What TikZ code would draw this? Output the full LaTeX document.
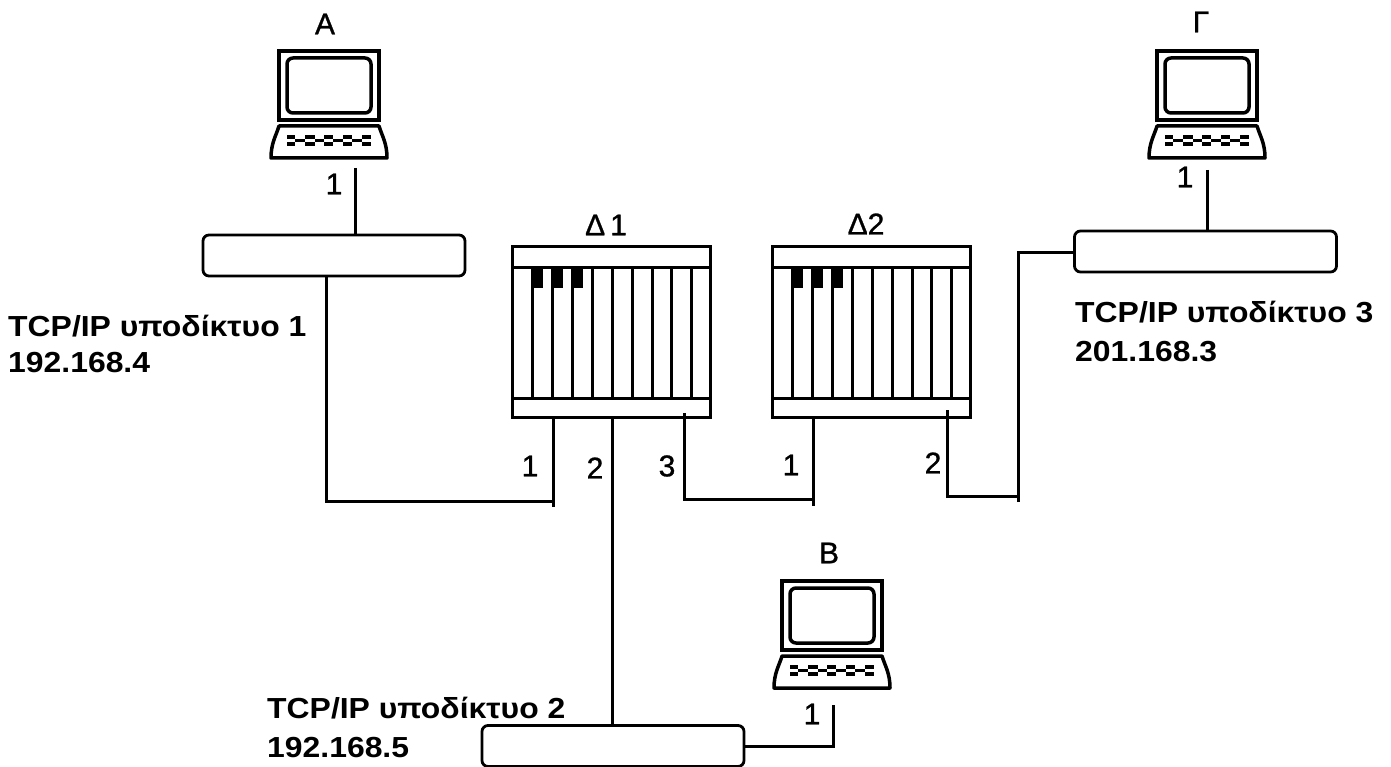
\documentclass[tikz,border=0pt]{standalone}
\usepackage{fontspec}
\setmainfont{Liberation Sans}
\newfontfamily\netfont[FakeStretch=1.1]{Liberation Sans Bold}
\newfontfamily\lblfont[FakeBold=1]{Liberation Sans}
\tikzset{
  x=1pt,y=-1pt,
  lbl/.style={font=\lblfont\fontsize{30}{32}\selectfont,inner sep=0pt,anchor=center},
  net/.style={font=\netfont\fontsize{29}{32}\selectfont,inner sep=0pt,anchor=west},
  hub/.style={draw,line width=2.8pt,rounded corners=6pt,minimum width=262pt,minimum height=41pt,inner sep=0pt},
  wire/.style={line width=3pt},
  heavy/.style={line width=3pt},
  pics/laptop/.style={code={
    \draw[line width=3.5pt] (0,0) rectangle (100,69);
    \draw[line width=3.5pt,rounded corners=6pt] (8,7) rectangle (92,62);
    \draw[line width=3.5pt,line join=round] (0,75) -- (100,75) .. controls (103,85) and (108,92) .. (108,107) -- (-8,107) .. controls (-8,92) and (-3,85) .. (0,75) -- cycle;
    \foreach \q/\w in {8/8,26/10,45/9,64/9,83/9}{
      \fill (\q,84) rectangle ++(\w,4);
      \fill (\q,91) rectangle ++(\w,4);
    }
    \foreach \q/\w in {16/10,36/9,54/10,73/10}{
      \fill (\q,88.2) rectangle ++(\w,2.6);
    }
  }},
  pics/rack/.style={code={
    \draw[line width=3pt] (0,0) rectangle (198,170);
    \draw[line width=3pt] (0,20) -- (198,20);
    \draw[line width=3pt] (0,151) -- (198,151);
    \foreach \q in {20,40,60,80,100,120,140,159,179}{
      \draw[line width=3pt] (\q,20) -- (\q,151);
    }
    \foreach \q in {20,40,60}{
      \fill (\q,21) rectangle ++(11,20);
    }
  }}
}
\begin{document}
\begin{tikzpicture}
\useasboundingbox (0,0) rectangle (1391,767);
% computers
\pic at (279,51) {laptop};
\pic at (1157,51) {laptop};
\pic at (782,581) {laptop};
% routers
\pic at (512,247) {rack};
\pic at (772,247) {rack};
% hubs
\node[hub] (n1) at (334,255.5) {};
\node[hub] (n3) at (1205.5,251.5) {};
\node[hub] (n2) at (613,746) {};
% free ends
\coordinate (pa) at (355,168);
\coordinate (pg) at (1207,170);
\coordinate (pb) at (833,705);
\coordinate (d1a) at (553,417);
\coordinate (d1ae) at (553,507);
\coordinate (d1b) at (612,417);
\coordinate (d1c) at (684,413);
\coordinate (d2a) at (813,416);
\coordinate (d2ae) at (813,506);
\coordinate (d2b) at (947,410);
\coordinate (d3) at (1018,502);
% connectors
\draw[wire] (pa) -- (pa |- n1.north);
\draw[wire] (pg) -- (pg |- n3.north);
\draw[wire] (326,276) |- (553,501);
\draw[wire] (d1a) -- (d1ae);
\draw[heavy] (d1b) -- (d1b |- n2.north);
\draw[wire] (d1c) |- (813,499);
\draw[wire] (d2a) -- (d2ae);
\draw[heavy] (d2b) |- (1018,496);
\draw[wire] (d3) |- (n3.west |- 0,253);
\draw[wire] (pb) |- (n2.east);
% labels
\node[lbl] (la) at (325,24) {Α};
\node[lbl] (lg) at (1201,22) {Γ};
\node[lbl] (lb) at (829,553) {Β};
\node[lbl] (ld1) at (606,225) {Δ\,1};
\node[lbl] (ld2) at (866,224) {Δ2};
\node[lbl] (o1) at (334,184) {1};
\node[lbl] (o2) at (1185,177) {1};
\node[lbl] (o3) at (812,714) {1};
\node[lbl] (o4) at (530,466) {1};
\node[lbl] (o5) at (595,468) {2};
\node[lbl] (o6) at (667,466) {3};
\node[lbl] (o7) at (791,465) {1};
\node[lbl] (o8) at (933,463) {2};
\node[net] (t1) at (8,326) {TCP/IP υποδίκτυο 1};
\node[net] (t1b) at (8,363) {192.168.4};
\node[net] (t2) at (267,708) {TCP/IP υποδίκτυο 2};
\node[net] (t2b) at (267,748) {192.168.5};
\node[net] (t3) at (1075,312) {TCP/IP υποδίκτυο 3};
\node[net] (t3b) at (1075,352) {201.168.3};
\end{tikzpicture}
\end{document}
